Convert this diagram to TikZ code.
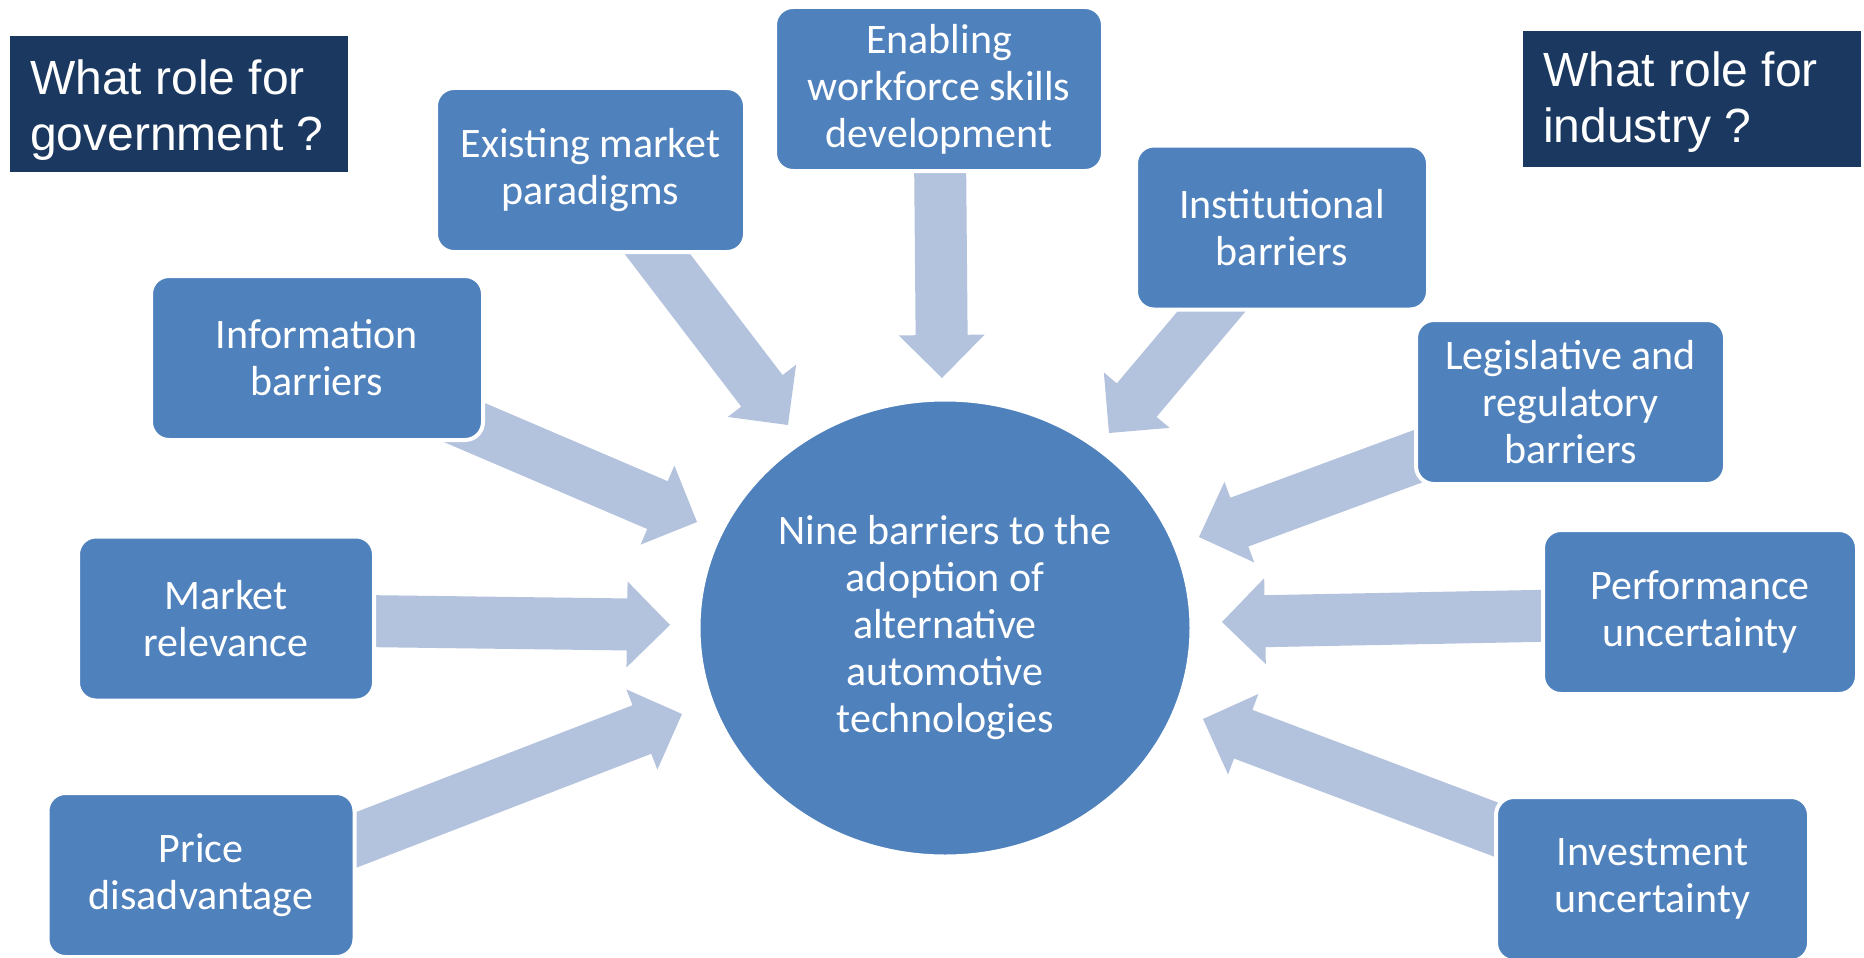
\documentclass[tikz,border=0pt]{standalone}
\usepackage{fontspec}
\setmainfont{Carlito}
\newfontfamily\arialfont{Liberation Sans}
\usetikzlibrary{calc,shapes.geometric}
\definecolor{boxblue}{HTML}{4F81BD}
\definecolor{arrowblue}{HTML}{B3C2DD}
\definecolor{headnavy}{HTML}{1B3861}
\newcommand{\blockarr}[2]{%
  \coordinate (bh) at ($(#2)!43pt!(#1)$);
  \fill[arrowblue] ($(#1)!26pt!90:(#2)$) -- ($(bh)!26pt!-90:(#1)$) -- ($(bh)!43pt!-90:(#1)$) -- (#2) -- ($(bh)!43pt!90:(#1)$) -- ($(bh)!26pt!90:(#1)$) -- ($(#1)!26pt!-90:(#2)$) -- cycle;}
\begin{document}
\begin{tikzpicture}[x=1pt,y=-1pt,
  barrier/.style={rectangle, rounded corners=18pt, fill=boxblue, draw=white, line width=4pt,
    text=white, align=center, font=\fontsize{42}{47}\selectfont, inner sep=0pt, minimum height=164},
  hubnode/.style={ellipse, fill=boxblue, draw=white, line width=3pt, text=white, align=center,
    font=\fontsize{42}{47}\selectfont, inner sep=0pt},
  headbox/.style={rectangle, fill=headnavy, anchor=north west, inner sep=0pt, minimum width=338, minimum height=136},
  headtext/.style={anchor=north west, inner sep=0pt, text=white, align=left, font=\arialfont\fontsize{48}{56}\selectfont}]
\useasboundingbox (0,0) rectangle (1864,958);
% arrow end points
\coordinate (t1) at (636,226);   \coordinate (p1) at (788,425);
\coordinate (t2) at (940,150);   \coordinate (p2) at (942,378);
\coordinate (t3) at (1270,242);  \coordinate (p3) at (1109,433);
\coordinate (t4) at (421,404);   \coordinate (p4) at (697,522);
\coordinate (t5) at (1443,447);  \coordinate (p5) at (1199,537);
\coordinate (t6) at (360,621);   \coordinate (p6) at (670,625);
\coordinate (t7) at (1560,615.5);\coordinate (p7) at (1222,622);
\coordinate (t8) at (327.5,851); \coordinate (p8) at (682,714);
\coordinate (t9) at (1521,839);  \coordinate (p9) at (1203,719);
\blockarr{t1}{p1}
\blockarr{t2}{p2}
\blockarr{t3}{p3}
\blockarr{t4}{p4}
\blockarr{t5}{p5}
\blockarr{t6}{p6}
\blockarr{t7}{p7}
\blockarr{t8}{p8}
\blockarr{t9}{p9}
% hub
\node[hubnode, minimum width=492, minimum height=456] (hub) at (945,628)
  {Nine barriers to the\\adoption of\\alternative\\automotive\\technologies};
% barrier boxes
\node[barrier, minimum width=309] (existing) at (590.5,170) {Existing market\\paradigms};
\node[barrier, minimum width=328] (enabling) at (939,89) {Enabling\\workforce skills\\development};
\node[barrier, minimum width=292] (institutional) at (1282,227.5) {Institutional\\barriers};
\node[barrier, minimum width=332] (information) at (317,358) {Information\\barriers};
\node[barrier, minimum width=309] (legislative) at (1570.5,402) {Legislative and\\regulatory\\barriers};
\node[barrier, minimum width=296] (market) at (226,618.5) {Market\\relevance};
\node[barrier, minimum width=314] (performance) at (1700,612) {Performance\\uncertainty};
\node[barrier, minimum width=307] (price) at (201,875) {Price\\disadvantage};
\node[barrier, minimum width=313] (investment) at (1652.5,879) {Investment\\uncertainty};
% headers
\node[headbox] (govbox) at (10,36) {};
\node[headtext] (govtxt) at (30,59.5) {What role for\\government ?};
\node[headbox] (indbox) at (1523,31) {};
\node[headtext] (indtxt) at (1543,51.5) {What role for\\industry ?};
\end{tikzpicture}
\end{document}
